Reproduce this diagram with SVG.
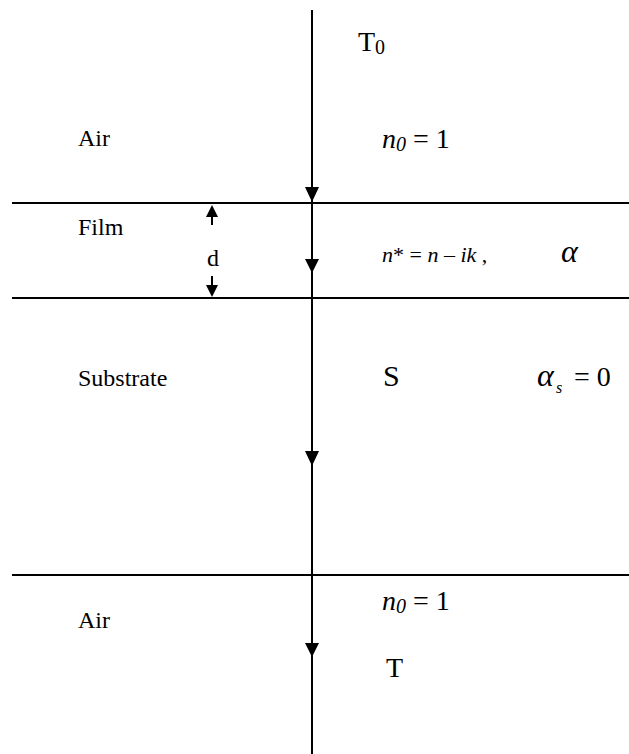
<svg xmlns="http://www.w3.org/2000/svg" width="629" height="754" viewBox="0 0 629 754">
<style>
.ln{stroke:#000;stroke-width:2;fill:none}
.ah{fill:#000}
text{font-family:Liberation Serif, serif;fill:#000}
.lbl{font-size:24px}
.big{font-size:28px}
.it{font-style:italic}
</style>
<g id="layers">
<line class="ln" x1="12" y1="203" x2="629" y2="203"/>
<line class="ln" x1="12" y1="298" x2="629" y2="298"/>
<line class="ln" x1="12" y1="575" x2="629" y2="575"/>
</g>
<g id="connectors">
<line class="ln" x1="312" y1="10" x2="312" y2="754"/>
<polygon class="ah" points="305,187 319,187 312,202"/>
<polygon class="ah" points="305,259 319,259 312,273"/>
<polygon class="ah" points="305,451 319,451 312,466"/>
<polygon class="ah" points="305,643 319,643 312,657"/>
<line class="ln" x1="212" y1="214" x2="212" y2="225"/>
<polygon class="ah" points="206,217 218,217 212,205"/>
<line class="ln" x1="212" y1="276" x2="212" y2="287"/>
<polygon class="ah" points="206,285 218,285 212,297"/>
</g>
<g id="air-top">
<text class="lbl" x="78" y="146">Air</text>
<text class="big" x="358" y="51">T<tspan font-size="20" dy="3">0</tspan></text>
<text class="big" x="382" y="148"><tspan class="it">n</tspan><tspan class="it" font-size="20" dy="3">0</tspan><tspan dy="-3"> = 1</tspan></text>
</g>
<g id="film">
<text class="lbl" x="78" y="235">Film</text>
<text class="lbl" x="207" y="266">d</text>
<text x="382" y="262" font-size="22"><tspan class="it">n</tspan>* = <tspan class="it">n</tspan> – <tspan class="it">ik</tspan> ,</text>
<text class="it" x="561" y="262" font-size="32">α</text>
</g>
<g id="substrate">
<text class="lbl" x="78" y="386">Substrate</text>
<text x="383" y="386" font-size="30">S</text>
<text class="it" x="537" y="386" font-size="32">α</text>
<text class="it" x="556" y="393" font-size="16">s</text>
<text x="574" y="386" font-size="28">= 0</text>
</g>
<g id="air-bottom">
<text class="lbl" x="78" y="628">Air</text>
<text class="big" x="382" y="610"><tspan class="it">n</tspan><tspan class="it" font-size="20" dy="3">0</tspan><tspan dy="-3"> = 1</tspan></text>
<text class="big" x="386" y="677">T</text>
</g>
</svg>
